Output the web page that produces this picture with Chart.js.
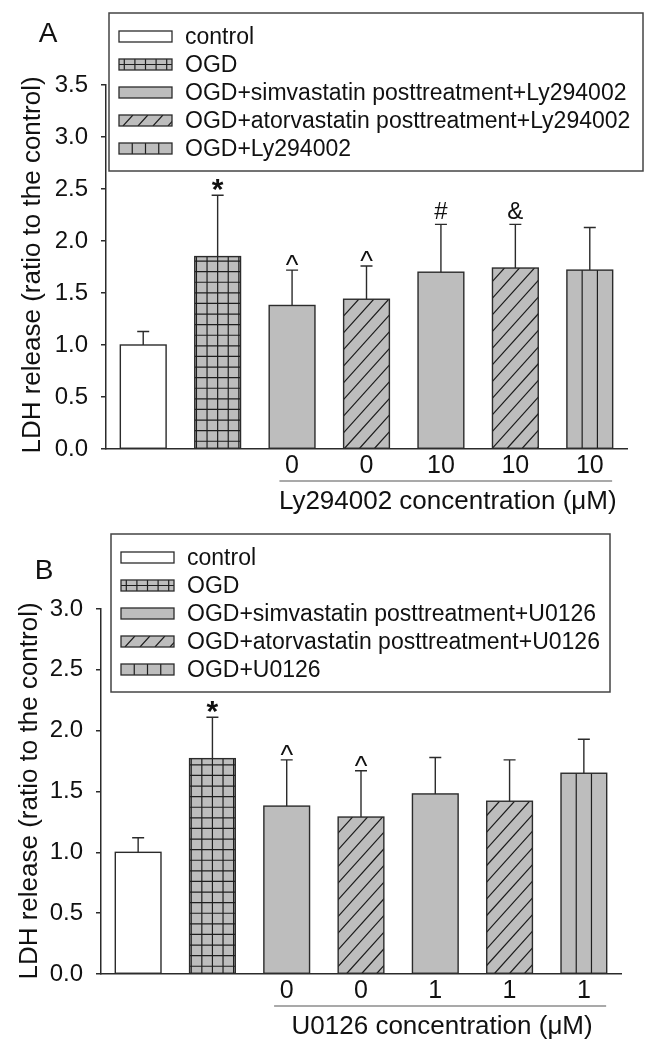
<!DOCTYPE html>
<html>
<head>
<meta charset="utf-8">
<script src="https://cdn.jsdelivr.net/npm/chart.js@4.4.1/dist/chart.umd.min.js"></script>
<style>
  body { margin: 0; background: #fff; }
  .panel { position: relative; width: 663px; }
</style>
</head>
<body>
<div class="panel" style="height:520px"><canvas id="chartA"></canvas></div>
<div class="panel" style="height:530px"><canvas id="chartB"></canvas></div>
<script>
// fill pattern of each bar, same order in both panels
const barPatterns = ['none', 'grid', 'solid', 'diag', 'solid', 'diag', 'vert'];
const legendPatterns = ['none', 'grid', 'solid', 'diag', 'vert'];

// panel A - Ly294002
const lyDoses = ['', '', '0', '0', '10', '10', '10'];
const lyMeans = [1.00, 1.85, 1.38, 1.44, 1.70, 1.74, 1.72];
const lyErrors = [0.13, 0.59, 0.34, 0.32, 0.46, 0.42, 0.41];
const lyMarks = ['', '*', '^', '^', '#', '&', ''];
const lyLegend = ['control', 'OGD', 'OGD+simvastatin posttreatment+Ly294002',
    'OGD+atorvastatin posttreatment+Ly294002', 'OGD+Ly294002'];

// panel B - U0126
const uDoses = ['', '', '0', '0', '1', '1', '1'];
const uMeans = [1.00, 1.77, 1.38, 1.29, 1.48, 1.42, 1.65];
const uErrors = [0.12, 0.34, 0.38, 0.38, 0.30, 0.34, 0.28];
const uMarks = ['', '*', '^', '^', '', '', ''];
const uLegend = ['control', 'OGD', 'OGD+simvastatin posttreatment+U0126',
    'OGD+atorvastatin posttreatment+U0126', 'OGD+U0126'];

const INK = '#2b2b2b';
const GRAY = '#bdbdbd';
const FONT = "'Liberation Sans', Arial, Helvetica, sans-serif";

Chart.defaults.font.family = FONT;
Chart.defaults.color = '#111';

function hatch(ctx, type, l, t, r, b) {
    if (type === 'none' || type === 'solid') return;
    ctx.save();
    ctx.beginPath();
    ctx.rect(l, t, r - l, b - t);
    ctx.clip();
    ctx.strokeStyle = '#1e1e1e';
    ctx.lineWidth = 1.2;
    ctx.beginPath();
    if (type === 'grid') {
        const cx = (l + r) / 2;
        for (let x = cx - 10.6 * 6; x < r; x += 10.6) {
            ctx.moveTo(x, t); ctx.lineTo(x, b);
        }
        const start = (b - t) < 20 ? (t + b) / 2 : b - 7;
        for (let y = start; y > t; y -= 10.6) {
            ctx.moveTo(l, y); ctx.lineTo(r, y);
        }
    } else if (type === 'diag') {
        const h = b - t;
        for (let x = l - h; x < r; x += 15) {
            ctx.moveTo(x, b); ctx.lineTo(x + h * 0.9, t);
        }
    } else if (type === 'vert') {
        const n = Math.round((r - l) / 15);
        const s = (r - l) / n;
        for (let k = 1; k < n; k++) {
            ctx.moveTo(l + k * s, t); ctx.lineTo(l + k * s, b);
        }
    }
    ctx.stroke();
    ctx.restore();
}

function makeDecor(cfg) {
    return {
        id: 'decor',
        afterDatasetsDraw(chart) {
            const ctx = chart.ctx;
            const yScale = chart.scales.y;
            const values = chart.data.datasets[0].data;
            chart.getDatasetMeta(0).data.forEach(function (bar, i) {
                const p = bar.getProps(['x', 'y', 'base', 'width'], true);
                const l = p.x - p.width / 2;
                const r = p.x + p.width / 2;
                hatch(ctx, barPatterns[i], l, p.y, r, p.base);
                ctx.save();
                ctx.strokeStyle = INK;
                ctx.lineWidth = 1.4;
                ctx.strokeRect(l, p.y, p.width, p.base - p.y);

                // upper error bar
                const capY = yScale.getPixelForValue(values[i] + cfg.errors[i]);
                ctx.beginPath();
                ctx.moveTo(p.x, p.y);
                ctx.lineTo(p.x, capY);
                ctx.moveTo(p.x - 6, capY);
                ctx.lineTo(p.x + 6, capY);
                ctx.stroke();

                // significance marks
                const mark = cfg.marks[i];
                if (mark) {
                    ctx.fillStyle = '#111';
                    ctx.textAlign = 'center';
                    ctx.textBaseline = 'alphabetic';
                    if (mark === '*') {
                        ctx.font = 'bold 30px ' + FONT;
                        ctx.fillText(mark, p.x, capY + 4);
                    } else if (mark === '^') {
                        ctx.font = '27px ' + FONT;
                        ctx.fillText(mark, p.x, capY + 4);
                    } else {
                        ctx.font = '24px ' + FONT;
                        ctx.fillText(mark, p.x, capY - 5);
                    }
                }
                ctx.restore();
            });
        },
        afterDraw(chart) {
            const ctx = chart.ctx;
            const x = chart.scales.x;
            const cw = x.getPixelForValue(1) - x.getPixelForValue(0);
            ctx.save();

            // legend box
            const lg = cfg.legend;
            ctx.fillStyle = '#fff';
            ctx.fillRect(lg.left, lg.top, lg.right - lg.left, lg.bottom - lg.top);
            ctx.strokeStyle = '#444';
            ctx.lineWidth = 1.5;
            ctx.strokeRect(lg.left, lg.top, lg.right - lg.left, lg.bottom - lg.top);
            cfg.legendLabels.forEach(function (text, i) {
                const cy = lg.firstRow + i * 28;
                const sl = lg.left + 10, sr = sl + 53, st = cy - 5.5, sb = cy + 5.5;
                ctx.fillStyle = i === 0 ? '#fff' : GRAY;
                ctx.fillRect(sl, st, sr - sl, sb - st);
                hatch(ctx, legendPatterns[i], sl, st, sr, sb);
                ctx.strokeStyle = INK;
                ctx.lineWidth = 1.3;
                ctx.strokeRect(sl, st, sr - sl, sb - st);
                ctx.fillStyle = '#111';
                ctx.font = '23px ' + FONT;
                ctx.textAlign = 'left';
                ctx.textBaseline = 'middle';
                ctx.fillText(text, lg.left + 76, cy + 1);
            });

            // panel letter
            ctx.font = '28px ' + FONT;
            ctx.textAlign = 'center';
            ctx.textBaseline = 'middle';
            ctx.fillText(cfg.letter, cfg.letterX, cfg.letterY);

            // y title
            ctx.save();
            ctx.translate(cfg.titleX, cfg.titleY);
            ctx.rotate(-Math.PI / 2);
            ctx.font = '26px ' + FONT;
            ctx.fillText('LDH release (ratio to the control)', 0, 0);
            ctx.restore();

            // inhibitor concentration bracket
            const x0 = x.getPixelForValue(2) - 0.17 * cw;
            const x1 = x.getPixelForValue(6) + 0.3 * cw;
            const lineY = chart.chartArea.bottom + 32;
            ctx.strokeStyle = '#555';
            ctx.lineWidth = 1.2;
            ctx.beginPath();
            ctx.moveTo(x0, lineY);
            ctx.lineTo(x1, lineY);
            ctx.stroke();
            ctx.font = '26px ' + FONT;
            ctx.fillStyle = '#111';
            ctx.fillText(cfg.concLabel, (x0 + x1) / 2 + 2, lineY + 21);
            ctx.restore();
        }
    };
}

function makeChart(id, cfg) {
    new Chart(document.getElementById(id), {
        type: 'bar',
        data: {
            labels: cfg.doses,
            datasets: [{
                data: cfg.means,
                backgroundColor: cfg.means.map(function (v, i) { return i === 0 ? '#ffffff' : GRAY; }),
                borderWidth: 0,
                barPercentage: 0.615,
                categoryPercentage: 1.0
            }]
        },
        options: {
            responsive: true,
            maintainAspectRatio: false,
            animation: false,
            layout: { padding: { left: 0, right: cfg.padRight, top: cfg.padTop, bottom: 0 } },
            plugins: { legend: { display: false }, tooltip: { enabled: false } },
            scales: {
                x: {
                    grid: { display: false, drawTicks: false },
                    border: { color: INK, width: 1.5 },
                    ticks: { autoSkip: false, maxRotation: 0, padding: 2, font: { size: 25 }, color: '#111' },
                    afterFit: function (scale) { scale.height = cfg.xHeight; }
                },
                y: {
                    min: 0,
                    max: cfg.yMax,
                    grid: { drawOnChartArea: false, drawTicks: true, tickLength: 5, color: INK, lineWidth: 1.5 },
                    border: { color: INK, width: 1.5 },
                    ticks: {
                        stepSize: 0.5,
                        padding: 13,
                        font: { size: 24 },
                        color: '#111',
                        callback: function (v) { return v.toFixed(1); }
                    },
                    afterFit: function (scale) { scale.width = cfg.yWidth; }
                }
            }
        },
        plugins: [makeDecor(cfg)]
    });
}

makeChart('chartA', {
    doses: lyDoses, means: lyMeans, errors: lyErrors, marks: lyMarks,
    legendLabels: lyLegend, concLabel: 'Ly294002 concentration (\u03bcM)',
    yMax: 3.5, yWidth: 106, padRight: 36, padTop: 85, xHeight: 71,
    legend: { left: 109, right: 643, top: 13, bottom: 171, firstRow: 36.5 },
    letter: 'A', letterX: 48, letterY: 34, titleX: 33, titleY: 265
});

makeChart('chartB', {
    doses: uDoses, means: uMeans, errors: uErrors, marks: uMarks,
    legendLabels: uLegend, concLabel: 'U0126 concentration (\u03bcM)',
    yMax: 3.0, yWidth: 101, padRight: 42, padTop: 89, xHeight: 76,
    legend: { left: 111, right: 610, top: 14, bottom: 172, firstRow: 37.5 },
    letter: 'B', letterX: 44, letterY: 51, titleX: 30, titleY: 271
});
</script>
</body>
</html>
